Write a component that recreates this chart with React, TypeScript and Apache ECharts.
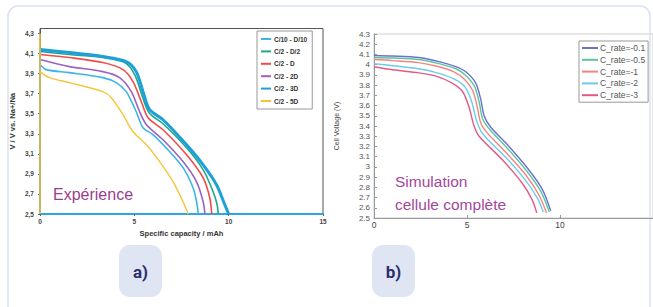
import React, { useEffect, useRef } from "react";
import * as echarts from "echarts";

// ---------- Chart a) : experiment ----------
const namesA = ["C/10 - D/10", "C/2 - D/2", "C/2 - D", "C/2 - 2D", "C/2 - 3D", "C/2 - 5D"];
const colorsA = ["#3bb4e8", "#1fa78b", "#ef4c4c", "#9b62c2", "#1d9fda", "#f4c53a"];
const widthsA = [1.6, 1.6, 1.6, 1.6, 3, 1.4];

const expC10D10 = [[0, 3.99], [0.32, 3.94], [1.56, 3.91], [3.33, 3.86], [4.04, 3.81], [4.57, 3.72], [5.1, 3.52], [5.46, 3.36], [6.0, 3.29], [6.88, 3.12], [7.59, 2.96], [8.12, 2.76], [8.3, 2.62], [8.39, 2.5]];
const expC2D2 = [[0, 4.12], [1.56, 4.09], [3.33, 4.06], [4.49, 4.01], [5.02, 3.89], [5.43, 3.67], [5.78, 3.51], [6.52, 3.4], [7.77, 3.16], [8.65, 2.94], [9.18, 2.72], [9.38, 2.6], [9.45, 2.5]];
const expC2D = [[0, 4.09], [1.56, 4.06], [3.33, 4.01], [4.4, 3.94], [4.93, 3.82], [5.37, 3.62], [5.73, 3.46], [6.52, 3.34], [7.77, 3.09], [8.65, 2.86], [9.0, 2.66], [9.1, 2.5]];
const expC22D = [[0, 4.04], [1.56, 3.97], [3.33, 3.92], [4.22, 3.86], [4.84, 3.72], [5.28, 3.52], [5.64, 3.39], [6.52, 3.24], [7.59, 3.02], [8.3, 2.82], [8.65, 2.62], [8.74, 2.5]];
const expC23D = [[0, 4.14], [1.56, 4.11], [3.33, 4.07], [4.57, 4.02], [5.1, 3.92], [5.46, 3.72], [5.81, 3.54], [6.52, 3.44], [7.77, 3.19], [8.65, 2.99], [9.36, 2.79], [9.8, 2.59], [10.0, 2.5]];
const expC25D = [[0, 3.92], [0.5, 3.86], [1.56, 3.81], [3.33, 3.72], [3.78, 3.66], [4.4, 3.49], [4.93, 3.32], [5.64, 3.19], [6.35, 3.02], [7.06, 2.82], [7.59, 2.62], [7.85, 2.5]];
const curvesA = [expC10D10, expC2D2, expC2D, expC22D, expC23D, expC25D];
const chargeBaseA = 2.5;
const yellowChargePeak = 4.3;

// ---------- Chart b) : simulation ----------
const namesB = ["C_rate=-0.1", "C_rate=-0.5", "C_rate=-1", "C_rate=-2", "C_rate=-3"];
const colorsB = ["#6b70d2", "#5cc59f", "#f4857e", "#6ccbeb", "#e25b88"];

const simM01 = [[0, 4.09], [1, 4.085], [2.4, 4.07], [3.5, 4.03], [4.4, 3.98], [4.93, 3.93], [5.47, 3.82], [5.74, 3.66], [5.92, 3.5], [6.27, 3.39], [7.26, 3.2], [8.33, 2.97], [9.05, 2.78], [9.5, 2.57]];
const simM05 = [[0, 4.07], [1, 4.065], [2.4, 4.05], [3.5, 4.01], [4.4, 3.96], [4.9, 3.9], [5.4, 3.79], [5.66, 3.63], [5.84, 3.47], [6.2, 3.37], [7.18, 3.18], [8.25, 2.95], [8.97, 2.76], [9.42, 2.56]];
const simM1 = [[0, 4.05], [1, 4.04], [2.4, 4.02], [3.5, 3.98], [4.3, 3.93], [4.85, 3.86], [5.3, 3.75], [5.55, 3.59], [5.74, 3.43], [6.1, 3.33], [7.05, 3.15], [8.12, 2.93], [8.85, 2.73], [9.28, 2.55]];
const simM2 = [[0, 4.01], [1, 3.99], [2.4, 3.96], [3.4, 3.92], [4.3, 3.86], [4.9, 3.78], [5.25, 3.64], [5.5, 3.46], [5.75, 3.35], [6.1, 3.27], [7.05, 3.1], [8.1, 2.88], [8.8, 2.69], [9.1, 2.56]];
const simM3 = [[0, 3.98], [1, 3.95], [2.4, 3.92], [3.3, 3.89], [4.2, 3.82], [4.75, 3.74], [5.1, 3.59], [5.38, 3.4], [5.65, 3.3], [6.9, 3.07], [7.97, 2.84], [8.5, 2.68], [8.75, 2.55]];
const curvesB = [simM01, simM05, simM1, simM2, simM3];

const xTicks = { min: 0, max: 15, interval: 5 };

export default function App() {
  const ref = useRef<HTMLDivElement>(null);

  useEffect(() => {
    if (!ref.current) return;
    const chart = echarts.init(ref.current, undefined, { renderer: "svg" });

    const seriesA: any[] = [];
    curvesA.forEach((curve, i) => {
      const charge = [[0, chargeBaseA], [0, curve[0][1]]];
      if (i === 5) charge.splice(1, 0, [0, yellowChargePeak]);
      seriesA.push({
        type: "line",
        name: namesA[i],
        xAxisIndex: 0,
        yAxisIndex: 0,
        data: curve,
        smooth: 0.3,
        symbol: "none",
        color: colorsA[i],
        lineStyle: { width: widthsA[i], color: colorsA[i] },
        z: 3,
      });
      seriesA.push({
        type: "line",
        name: namesA[i],
        xAxisIndex: 0,
        yAxisIndex: 0,
        data: charge,
        symbol: "none",
        color: colorsA[i],
        lineStyle: { width: 1.5, color: colorsA[i] },
        silent: true,
        z: 3,
      });
    });

    const seriesB = curvesB.map((curve, i) => ({
      type: "line",
      name: namesB[i],
      xAxisIndex: 1,
      yAxisIndex: 1,
      data: curve,
      smooth: 0.3,
      symbol: "none",
      color: colorsB[i],
      lineStyle: { width: 1.4, color: colorsB[i] },
    }));

    const font = "Liberation Sans";

    chart.setOption({
      animation: false,
      backgroundColor: "#ffffff",
      textStyle: { fontFamily: font },
      grid: [
        { left: 40, top: 28.5, width: 283, height: 185.5, show: true, borderColor: "#555", borderWidth: 1, backgroundColor: "#fff" },
        { left: 374, top: 34, width: 282, height: 184, show: true, borderColor: "#cfcfcf", borderWidth: 1, backgroundColor: "#fff" },
      ],
      xAxis: [
        {
          gridIndex: 0, type: "value", ...xTicks,
          name: "Specific capacity / mAh", nameLocation: "middle", nameGap: 14,
          nameTextStyle: { fontSize: 7.5, fontWeight: "bold", color: "#333", fontFamily: font },
          axisLine: { show: true, lineStyle: { color: "#2ba8df", width: 2 } },
          axisTick: { show: true, length: 2, lineStyle: { color: "#666" } },
          axisLabel: { fontSize: 6.5, fontWeight: "bold", color: "#444", margin: 4 },
          splitLine: { show: false },
        },
        {
          gridIndex: 1, type: "value", ...xTicks,
          axisLine: { show: true, lineStyle: { color: "#999", width: 1 } },
          axisTick: { show: true, inside: true, length: 3, lineStyle: { color: "#999" } },
          axisLabel: { fontSize: 8.5, color: "#444", margin: 2, showMaxLabel: false },
          splitLine: { show: false },
        },
      ],
      yAxis: [
        {
          gridIndex: 0, type: "value", min: 2.5, max: 4.35, interval: 0.2,
          name: "V / V vs. Na+/Na", nameLocation: "middle", nameGap: 24,
          nameTextStyle: { fontSize: 7.5, fontWeight: "bold", color: "#333", fontFamily: font },
          axisLine: { show: true, lineStyle: { color: "#555", width: 1 } },
          axisTick: { show: true, length: 2, lineStyle: { color: "#666" } },
          axisLabel: {
            fontSize: 6.5, fontWeight: "bold", color: "#444", margin: 6, showMaxLabel: false,
            formatter: (v: number) => v.toFixed(1).replace(".", ","),
          },
          splitLine: { show: false },
        },
        {
          gridIndex: 1, type: "value", min: 2.5, max: 4.3, interval: 0.1,
          name: "Cell Voltage (V)", nameLocation: "middle", nameGap: 34,
          nameTextStyle: { fontSize: 7, color: "#444", fontFamily: font },
          axisLine: { show: true, lineStyle: { color: "#999", width: 1 } },
          axisTick: { show: true, inside: true, length: 3, lineStyle: { color: "#999" } },
          axisLabel: { fontSize: 8, color: "#555", margin: 4 },
          splitLine: { show: false },
        },
      ],
      legend: [
        {
          data: namesA, orient: "vertical", left: 257, top: 31,
          padding: [4, 5, 4, 4], itemGap: 4.4, itemWidth: 10, itemHeight: 2, icon: "rect",
          borderColor: "#999", borderWidth: 1, backgroundColor: "#fff",
          textStyle: { fontSize: 6.5, fontWeight: "bold", color: "#333", lineHeight: 8, fontFamily: font, padding: [0, 0, 0, -2] },
          selectedMode: false,
        },
        {
          data: namesB, orient: "vertical", left: 579, top: 41,
          padding: [2, 3, 2, 3], itemGap: 1.8, itemWidth: 16, itemHeight: 2, icon: "rect",
          borderColor: "#999", borderWidth: 1, backgroundColor: "#fff",
          textStyle: { fontSize: 8.5, color: "#555", lineHeight: 10, fontFamily: font, padding: [0, 0, 0, -3] },
          selectedMode: false,
        },
      ],
      graphic: [
        {
          type: "rect", shape: { x: 8, y: 6, width: 642, height: 340, r: 10 },
          style: { fill: "none", stroke: "#dbe2f3", lineWidth: 1.5 }, silent: true, z: 0,
        },
        { type: "rect", shape: { x: 119, y: 245, width: 43, height: 52, r: 11 }, style: { fill: "#dfe5f2" }, z: 1 },
        { type: "rect", shape: { x: 372, y: 245, width: 43, height: 52, r: 11 }, style: { fill: "#dfe5f2" }, z: 1 },
        {
          type: "text", x: 140.5, y: 272, z: 2,
          style: { text: "a)", fill: "#2b2e6e", font: "bold 17px Roboto", align: "center", verticalAlign: "middle" },
        },
        {
          type: "text", x: 393.5, y: 272, z: 2,
          style: { text: "b)", fill: "#2b2e6e", font: "bold 17px Roboto", align: "center", verticalAlign: "middle" },
        },
        {
          type: "text", x: 53, y: 194, z: 10,
          style: { text: "Expérience", fill: "#9a3e8e", font: "16px 'Liberation Sans'", align: "left", verticalAlign: "middle" },
        },
        {
          type: "text", x: 395, y: 181, z: 10,
          style: { text: "Simulation", fill: "#a4479a", font: "15.5px 'Liberation Sans'", align: "left", verticalAlign: "middle" },
        },
        {
          type: "text", x: 395, y: 204, z: 10,
          style: { text: "cellule complète", fill: "#a4479a", font: "15.5px 'Liberation Sans'", align: "left", verticalAlign: "middle" },
        },
      ],
      series: [...seriesA, ...seriesB],
    });

    return () => chart.dispose();
  }, []);

  return (
    <div
      ref={ref}
      style={{ position: "absolute", left: 0, top: 0, width: 653, height: 307, background: "#fff" }}
    />
  );
}
